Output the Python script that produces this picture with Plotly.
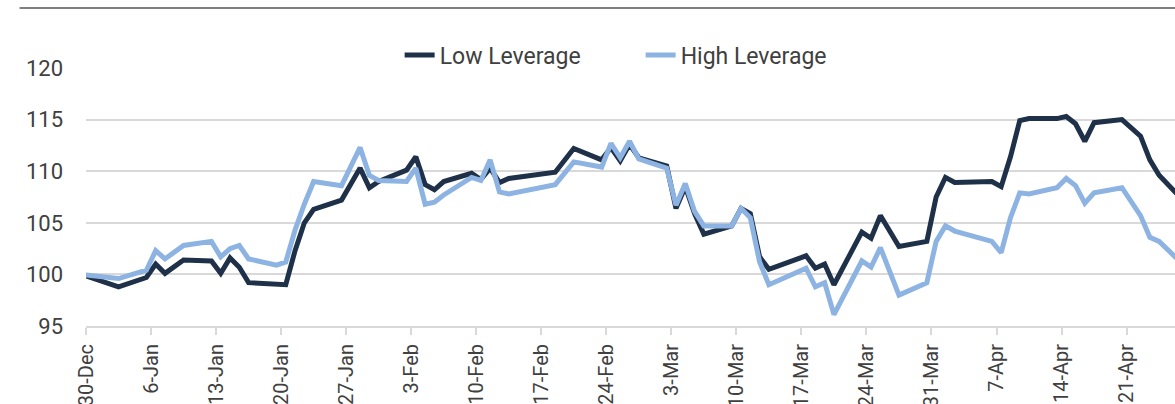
import plotly.graph_objects as go

# values (index, 30-Dec = 100)
dates = ["2024-12-30", "2025-01-03", "2025-01-06", "2025-01-07", "2025-01-08",
         "2025-01-10", "2025-01-13", "2025-01-14", "2025-01-15", "2025-01-16",
         "2025-01-17", "2025-01-20", "2025-01-21", "2025-01-22", "2025-01-23",
         "2025-01-24", "2025-01-27", "2025-01-29", "2025-01-30", "2025-01-31",
         "2025-02-03", "2025-02-04", "2025-02-05", "2025-02-06", "2025-02-07",
         "2025-02-10", "2025-02-11", "2025-02-12", "2025-02-13", "2025-02-14",
         "2025-02-19", "2025-02-21", "2025-02-24", "2025-02-25", "2025-02-26",
         "2025-02-27", "2025-02-28", "2025-03-03", "2025-03-04", "2025-03-05",
         "2025-03-06", "2025-03-07", "2025-03-10", "2025-03-11", "2025-03-12",
         "2025-03-13", "2025-03-14", "2025-03-18", "2025-03-19", "2025-03-20",
         "2025-03-21", "2025-03-24", "2025-03-25", "2025-03-26", "2025-03-28",
         "2025-03-31", "2025-04-01", "2025-04-02", "2025-04-03", "2025-04-07",
         "2025-04-08", "2025-04-09", "2025-04-10", "2025-04-11", "2025-04-14",
         "2025-04-15", "2025-04-16", "2025-04-17", "2025-04-18", "2025-04-21",
         "2025-04-23", "2025-04-24", "2025-04-25", "2025-04-28"]

low_leverage = [100.0, 98.8, 99.7, 101.0, 100.1,
                101.4, 101.3, 100.1, 101.6, 100.7,
                99.2, 99.1, 99.0, 102.3, 105.0,
                106.3, 107.2, 110.3, 108.4, 109.0,
                110.1, 111.4, 108.7, 108.2, 109.0,
                109.8, 109.2, 110.3, 108.9, 109.3,
                109.9, 112.2, 111.1, 112.3, 111.0,
                112.6, 111.3, 110.5, 106.4, 108.5,
                105.9, 103.9, 104.7, 106.4, 105.9,
                101.7, 100.5, 101.8, 100.6, 101.0,
                99.0, 104.1, 103.5, 105.7, 102.7,
                103.2, 107.5, 109.4, 108.9, 109.0,
                108.5, 111.4, 114.9, 115.1, 115.1,
                115.3, 114.6, 112.9, 114.7, 115.0,
                113.4, 111.1, 109.6, 106.8]

high_leverage = [100.0, 99.6, 100.4, 102.3, 101.5,
                 102.8, 103.2, 101.7, 102.5, 102.8,
                 101.5, 100.9, 101.2, 104.3, 106.8,
                 109.0, 108.6, 112.3, 109.6, 109.1,
                 109.0, 110.3, 106.8, 107.0, 107.7,
                 109.4, 109.1, 111.1, 108.0, 107.8,
                 108.7, 110.9, 110.4, 112.7, 111.3,
                 112.9, 111.2, 110.3, 106.7, 108.8,
                 106.1, 104.7, 104.7, 106.4, 105.5,
                 101.2, 99.0, 100.6, 98.8, 99.2,
                 96.1, 101.3, 100.7, 102.6, 98.0,
                 99.2, 103.2, 104.7, 104.2, 103.2,
                 102.1, 105.5, 107.9, 107.8, 108.4,
                 109.3, 108.6, 106.9, 107.9, 108.4,
                 105.7, 103.6, 103.2, 100.6]

tick_dates = ["2024-12-30", "2025-01-06", "2025-01-13", "2025-01-20", "2025-01-27",
              "2025-02-03", "2025-02-10", "2025-02-17", "2025-02-24", "2025-03-03",
              "2025-03-10", "2025-03-17", "2025-03-24", "2025-03-31", "2025-04-07",
              "2025-04-14", "2025-04-21"]
tick_labels = ["30-Dec", "6-Jan", "13-Jan", "20-Jan", "27-Jan", "3-Feb", "10-Feb",
               "17-Feb", "24-Feb", "3-Mar", "10-Mar", "17-Mar", "24-Mar", "31-Mar",
               "7-Apr", "14-Apr", "21-Apr"]

DARK = "#1f3148"
LIGHT = "#8db3e2"
GRID = "#d9d9d9"
TEXT = "#404040"

fig = go.Figure()
fig.add_trace(go.Scatter(x=dates, y=low_leverage, name="Low Leverage",
                         mode="lines", line=dict(color=DARK, width=5)))
fig.add_trace(go.Scatter(x=dates, y=high_leverage, name="High Leverage",
                         mode="lines", line=dict(color=LIGHT, width=5)))

# excel puts the week ticks half a day right of the points
tickvals = [d + " 12:00" for d in tick_dates]

fig.update_xaxes(
    type="date",
    range=["2024-12-30 12:00", "2025-04-26 17:00"],
    tickvals=tickvals,
    ticktext=tick_labels,
    tickangle=-90,
    ticks="outside",
    ticklen=7,
    tickcolor=GRID,
    tickwidth=1.5,
    showline=True,
    linecolor=GRID,
    linewidth=2,
    showgrid=False,
    zeroline=False,
    automargin=False,
    ticklabelstandoff=1,
    tickfont=dict(family="Roboto", size=20, color=TEXT),
)
fig.update_yaxes(
    range=[95, 120],
    dtick=5,
    showgrid=True,
    gridcolor=GRID,
    gridwidth=2,
    zeroline=False,
    showline=False,
    ticks="",
    automargin=False,
    ticklabelstandoff=22,
    tickfont=dict(family="Roboto", size=22, color=TEXT),
)

# thin rule across the top of the exhibit
fig.add_shape(type="line", xref="paper", yref="paper",
              x0=-0.061, x1=1.0, y0=1.233, y1=1.233,
              line=dict(color="#7f7f7f", width=2))

fig.update_layout(
    width=1175,
    height=404,
    margin=dict(l=86, r=0, t=68, b=78, autoexpand=False),
    paper_bgcolor="white",
    plot_bgcolor="white",
    font=dict(family="Roboto", color=TEXT),
    showlegend=True,
    legend=dict(orientation="h", x=0.288, xanchor="left", y=1.05, yanchor="middle",
                entrywidth=196, font=dict(family="Roboto", size=23, color=TEXT),
                bgcolor="rgba(0,0,0,0)"),
)

# drop the page's default 8px body margin so the figure fills the window
fig.write_html("out.html",
               config={"displayModeBar": False},
               post_script="document.body.style.margin='0';"
                           "document.body.style.overflow='hidden';")
